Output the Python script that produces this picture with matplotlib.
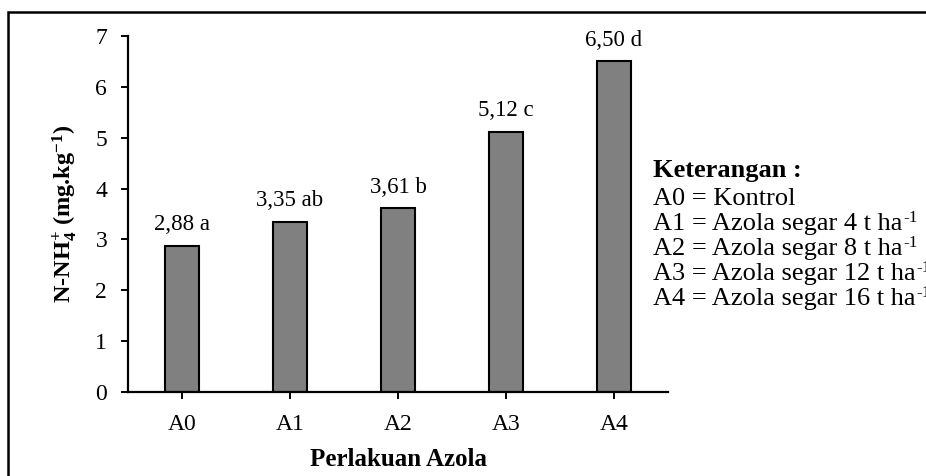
import matplotlib
matplotlib.use("Agg")
import matplotlib.pyplot as plt
from matplotlib.patches import Rectangle

categories = ["A0", "A1", "A2", "A3", "A4"]
values = [2.88, 3.35, 3.61, 5.12, 6.50]
letters = ["a", "ab", "b", "c", "d"]
yticks = [0, 1, 2, 3, 4, 5, 6, 7]
legend_title = "Keterangan :"
legend_lines = ["A0 = Kontrol",
                "A1 = Azola segar 4 t ha",
                "A2 = Azola segar 8 t ha",
                "A3 = Azola segar 12 t ha",
                "A4 = Azola segar 16 t ha"]
legend_sups = ["", "-1", "-1", "-1", "-1"]

plt.rcParams['font.family'] = ['Liberation Serif', 'DejaVu Serif']
plt.rcParams['mathtext.fontset'] = 'custom'
plt.rcParams['mathtext.rm'] = 'Liberation Serif'
plt.rcParams['mathtext.bf'] = 'Liberation Serif:bold'
plt.rcParams['mathtext.it'] = 'Liberation Serif:italic'

W, H = 926, 476
fig = plt.figure(figsize=(W/100, H/100), dpi=100)
ax = fig.add_axes([128/W, 1-392/H, (668-128)/W, (392-36)/H])

x = list(range(len(categories)))
ax.bar(x, values, width=0.32, color="#808080", edgecolor="black", linewidth=1.5)
ax.set_xlim(-0.5, len(categories)-0.5)
ax.set_ylim(0, 7)
ax.set_yticks(yticks)
ax.set_xticks(x)
ax.set_xticklabels(categories)
for s in ["top", "right"]:
    ax.spines[s].set_visible(False)
for s in ["left", "bottom"]:
    ax.spines[s].set_linewidth(1.6)
ax.tick_params(axis='both', labelsize=17, width=1.4, length=5, direction='out')
ax.tick_params(axis='y', pad=10)
ax.tick_params(axis='x', pad=11)

for xi, v, l in zip(x, values, letters):
    ax.annotate(f"{v:.2f}".replace(".", ",") + " " + l, (xi, v), xytext=(0, 11),
                textcoords="offset points", ha="center", va="baseline", fontsize=16.5)

ax.set_ylabel("N-NH$_\\mathbf{4}^\\mathbf{+}$ (mg.kg$^\\mathbf{-1}$)", fontsize=17.5,
              fontweight="bold", labelpad=12)
ax.set_xlabel("Perlakuan Azola", fontsize=18, fontweight="bold", labelpad=9)

fig.text(653/W, 1-177/H, legend_title, fontsize=19, fontweight="bold", va="baseline", ha="left")
renderer = fig.canvas.get_renderer()
for i, (line, sup) in enumerate(zip(legend_lines, legend_sups)):
    yb = 1-(205+25*i)/H
    t = fig.text(653/W, yb, line, fontsize=19, va="baseline", ha="left")
    if sup:
        bb = t.get_window_extent(renderer=renderer)
        fig.text(bb.x1/W + 1/W, yb + 8/H, sup, fontsize=12.5, va="baseline", ha="left")

fig.patches.append(Rectangle((8/W, -0.1), 1.2, 1-12/H+0.1, transform=fig.transFigure,
                             fill=False, edgecolor="black", linewidth=1.8))

fig.savefig("out.png", dpi=100)
